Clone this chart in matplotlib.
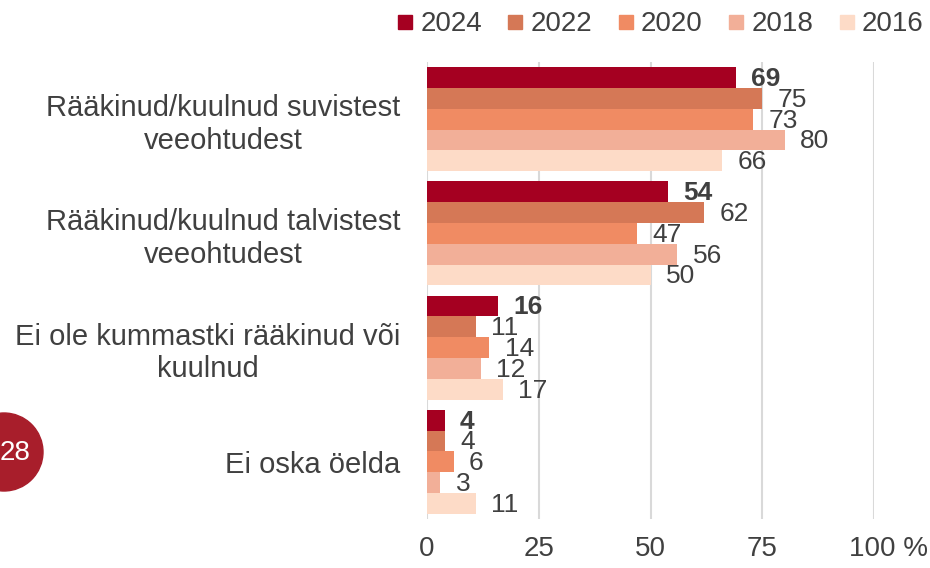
import matplotlib.pyplot as plt
from matplotlib.lines import Line2D
from matplotlib.patches import Ellipse
from matplotlib.transforms import ScaledTranslation
import numpy as np

plt.rcParams['font.family'] = ['Liberation Sans', 'DejaVu Sans']

categories = ['Rääkinud/kuulnud suvistest\nveeohtudest',
              'Rääkinud/kuulnud talvistest\nveeohtudest',
              'Ei ole kummastki rääkinud või\nkuulnud',
              'Ei oska öelda']
years = ['2024', '2022', '2020', '2018', '2016']
v2024 = [69, 54, 16, 4]
v2022 = [75, 62, 11, 4]
v2020 = [73, 47, 14, 6]
v2018 = [80, 56, 12, 3]
v2016 = [66, 50, 17, 11]
colors = ['#A50021', '#D57856', '#F08B63', '#F2AF98', '#FDDBC7']
xticks = [0, 25, 50, 75, 100]
xtick_labels = ['0', '25', '50', '75', '100 %']

text_col = '#404040'
series = [v2024, v2022, v2020, v2018, v2016]

fig = plt.figure(figsize=(9.3, 5.68), dpi=100)
ax = fig.add_axes([0.459, 0.0863, 0.481, 0.8045])

y = np.arange(len(categories))
h = 0.182
for i, (vals, col) in enumerate(zip(series, colors)):
  pos = y + (i - 2) * h
  ax.barh(pos, vals, height=h, color=col, zorder=2)
  for p, v in zip(pos, vals):
    ax.annotate(str(v), (v, p), xytext=(11, -1), textcoords='offset points',
                ha='left', va='center', fontsize=19, color=text_col,
                fontweight='bold' if i == 0 else 'normal')

ax.set_xlim(0, 100)
ax.set_ylim(len(categories) - 0.5, -0.5)
ax.set_xticks(xticks)
ax.set_xticklabels(xtick_labels, fontsize=20, color=text_col)
ax.set_yticks(y)
ax.set_yticklabels(categories, fontsize=21, color=text_col,
                   multialignment='center', linespacing=1.2)
ax.tick_params(axis='both', length=0)
ax.tick_params(axis='x', pad=12)
ax.tick_params(axis='y', pad=19)
ax.grid(axis='x', color='#D9D9D9', linewidth=1.5, zorder=0)
for s in ax.spines.values():
  s.set_visible(False)

# "100 %" sits with the number centred on the tick
last = ax.get_xticklabels()[-1]
last.set_transform(last.get_transform() + ScaledTranslation(0.14, 0, fig.dpi_scale_trans))

handles = [Line2D([], [], marker='s', linestyle='none', markersize=10,
                  markerfacecolor=c, markeredgecolor=c) for c in colors]
fig.legend(handles, years, ncol=5, loc='upper right', bbox_to_anchor=(1.02, 1.024),
           frameon=False, fontsize=20, handlelength=0.6, handletextpad=0.25,
           columnspacing=0.9, labelcolor=text_col)

# page number badge
fig.patches.append(Ellipse((4 / 930, 1 - 452 / 568), 78 / 930, 78 / 568,
                           transform=fig.transFigure, color='#A81E2B', zorder=0))
fig.text(15 / 930, 1 - 453 / 568, '28', color='white', fontsize=20,
         ha='center', va='center')

plt.savefig('out.png', dpi=100)
